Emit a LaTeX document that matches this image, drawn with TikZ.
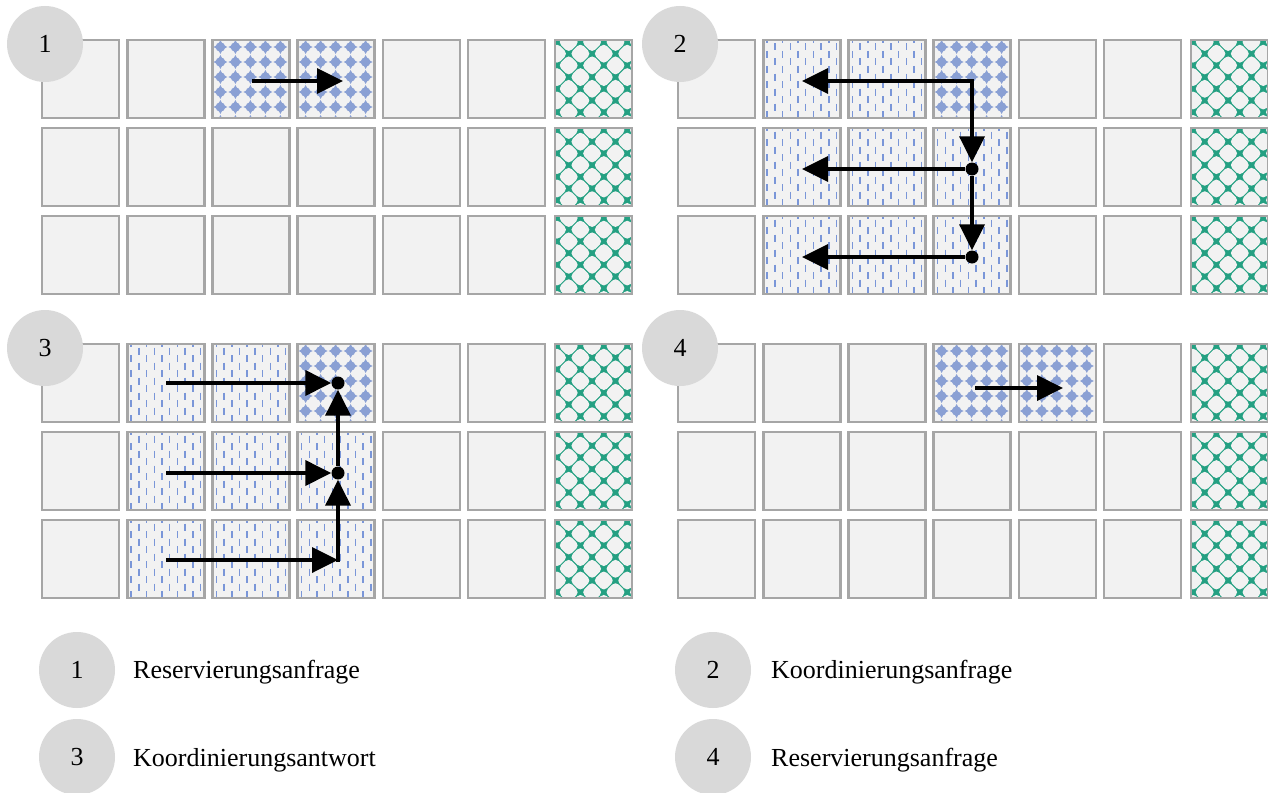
\documentclass[tikz,border=0pt]{standalone}
\usepackage{fontspec}
\setmainfont{Liberation Serif}
\usetikzlibrary{arrows.meta}

\definecolor{cellbg}{RGB}{242,242,242}
\definecolor{cellframe}{RGB}{166,166,166}
\definecolor{badgegray}{RGB}{217,217,217}
\definecolor{resblue}{RGB}{138,160,212}
\definecolor{dashblue}{RGB}{122,150,216}
\definecolor{blockteal}{RGB}{36,160,130}

\tikzset{
  cellline/.style={draw=cellframe, line width=2.6pt},
  badge/.style={circle, fill=badgegray, minimum size=76pt, inner sep=0pt,
                font=\fontsize{26pt}{30pt}\selectfont},
  legendtext/.style={anchor=base west, inner sep=0pt,
                font=\fontsize{26pt}{30pt}\selectfont},
  msg/.style={draw=black, line width=3.6pt, -{Triangle[length=26pt,width=25pt]}},
  junction/.style={circle, fill=black, minimum size=13pt, inner sep=0pt},
  dashcol/.style={draw=dashblue, line width=1.5pt, dash pattern=on 7pt off 8pt},
  hole/.style={fill=cellbg, rounded corners=4.5pt},
}

% cell fillings: plain, reserved (blue stars), coordinating (vertical dashes), blocked (teal trellis)
\newcommand\fillplain[2]{}
\newcommand\fillres[2]{%
  \foreach \i in {-1,...,5}{\foreach \j in {-1,...,5}{%
    \begin{scope}[shift={({#1+8+15*\i},{#2+7+15*\j})}]
      \fill[resblue] (0,-7) -- (2.4,-2.4) -- (7,0) -- (2.4,2.4) -- (0,7)
                     -- (-2.4,2.4) -- (-7,0) -- (-2.4,-2.4) -- cycle;
      \fill[resblue] (0,0) circle[radius=4.8pt];
    \end{scope}
  }}}
\newcommand\fillcoord[2]{%
  \foreach \k in {0,2,...,10}{\draw[dashcol] ({#1+4+7.7*\k},{#2-4}) -- ++(0,92);}
  \foreach \k in {1,3,...,9}{\draw[dashcol] ({#1+4+7.7*\k},{#2+3.5}) -- ++(0,92);}}
\newcommand\trellishole[2]{%
  \fill[hole, shift={(#1,#2)}] (0,-10.8) -- (10.8,0) -- (0,10.8) -- (-10.8,0) -- cycle;}
\newcommand\fillblock[2]{%
  \fill[blockteal] (#1,#2) rectangle ++(77,78);
  \foreach \b in {-2,0,...,8}{\foreach \a in {-1,1,...,7}{%
    \trellishole{#1+2+\a*11.7}{#2+2+\b*11.7}}}
  \foreach \b in {-1,1,...,7}{\foreach \a in {-2,0,...,8}{%
    \trellishole{#1+2+\a*11.7}{#2+2+\b*11.7}}}}

% one grid cell: left, top, filling
\newcommand\gridcell[3]{%
  \begin{scope}
    \clip (#1,#2) rectangle ++(77,78);
    \fill[cellbg] (#1,#2) rectangle ++(77,78);
    \csname fill#3\endcsname{#1}{#2}
  \end{scope}
  \draw[cellline] (#1,#2) rectangle ++(77,78);}

% one panel: left, top, three rows of seven fillings
\newcommand\panel[5]{%
  \foreach \r/\row in {0/{#3},1/{#4},2/{#5}}{%
    \foreach \f [count=\c from 0] in \row {%
      \pgfmathsetmacro\cx{#1+85.2*\c+(\c==6 ? 1.8 : 0)}%
      \pgfmathsetmacro\cy{#2+88*\r}%
      \gridcell{\cx}{\cy}{\f}}}}

\begin{document}
\begin{tikzpicture}[x=1pt, y=-1pt]
  \useasboundingbox (0,0) rectangle (1268,792);
  \fill[white] (0,0) rectangle (1268,792);

  % the four grid states
  \panel{42}{40}{plain,plain,res,res,plain,plain,block}
                {plain,plain,plain,plain,plain,plain,block}
                {plain,plain,plain,plain,plain,plain,block}
  \panel{678}{40}{plain,coord,coord,res,plain,plain,block}
                 {plain,coord,coord,coord,plain,plain,block}
                 {plain,coord,coord,coord,plain,plain,block}
  \panel{42}{344}{plain,coord,coord,res,plain,plain,block}
                 {plain,coord,coord,coord,plain,plain,block}
                 {plain,coord,coord,coord,plain,plain,block}
  \panel{678}{344}{plain,plain,plain,res,res,plain,block}
                  {plain,plain,plain,plain,plain,plain,block}
                  {plain,plain,plain,plain,plain,plain,block}

  % step badges
  \node[badge] (b1) at (45,44) {1};
  \node[badge] (b2) at (680,44) {2};
  \node[badge] (b3) at (45,348) {3};
  \node[badge] (b4) at (680,348) {4};

  % step 1: reservation request
  \coordinate (s1) at (252,81);
  \coordinate (e1) at (343,81);
  \draw[msg] (s1) -- (e1);

  % step 2: coordination request down the column and to the left
  \coordinate (c2) at (972,81);
  \node[junction] (j2a) at (972,169) {};
  \node[junction] (j2b) at (972,257) {};
  \coordinate (t2a) at (802,81);
  \coordinate (t2b) at (802,169);
  \coordinate (t2c) at (802,257);
  \draw[msg, line cap=rect] (c2) -- (t2a);
  \draw[msg] (c2) -- (j2a);
  \draw[msg] (j2a) -- (j2b);
  \draw[msg] (j2a) -- (t2b);
  \draw[msg] (j2b) -- (t2c);

  % step 3: coordination answers collected back up the column
  \coordinate (s3a) at (166,383);
  \coordinate (s3b) at (166,473);
  \coordinate (s3c) at (166,560);
  \node[junction] (j3a) at (338,383) {};
  \node[junction] (j3b) at (338,473) {};
  \coordinate (c3) at (338,560);
  \draw[msg] (s3a) -- (j3a);
  \draw[msg] (s3b) -- (j3b);
  \draw[msg] (s3c) -- (c3);
  \draw[msg, line cap=rect] (c3) -- (j3b);
  \draw[msg] (j3b) -- (j3a);

  % step 4: reservation request
  \coordinate (s4) at (975,388);
  \coordinate (e4) at (1063,388);
  \draw[msg] (s4) -- (e4);

  % legend
  \node[badge] (l1) at (77,670) {1};
  \node[badge] (l3) at (77,757) {3};
  \node[badge] (l2) at (713,670) {2};
  \node[badge] (l4) at (713,757) {4};
  \node[legendtext] (t1) at (133,678) {Reservierungsanfrage};
  \node[legendtext] (t3) at (133,766) {Koordinierungsantwort};
  \node[legendtext] (t2) at (771,678) {Koordinierungsanfrage};
  \node[legendtext] (t4) at (771,766) {Reservierungsanfrage};
\end{tikzpicture}
\end{document}
